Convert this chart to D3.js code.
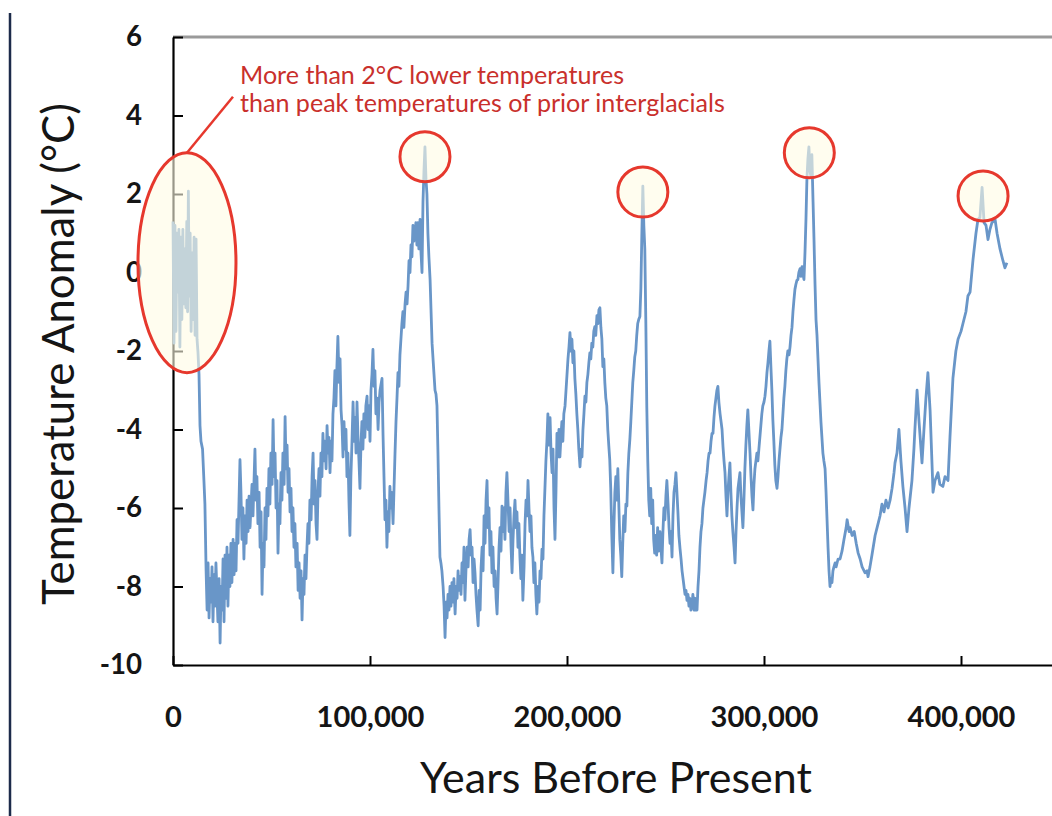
<!DOCTYPE html>
<html><head><meta charset="utf-8">
<script src="https://cdn.jsdelivr.net/npm/d3@7"></script>
<style>html,body{margin:0;padding:0;background:#fff;} svg{display:block;}</style>
</head><body><svg id="chart" width="1052" height="816"></svg>
<script>
// Vostok temperature anomaly: [years before present, °C]
const series = [
[0,1.3],[500,-1.8],[1000,1.2],[1500,-1.5],[2000,1.0],[2500,-0.5],[3000,1.1],[3500,-1.9],[4000,0.9],[4500,-1.2],[5000,1.1],[5500,-0.8],[6000,0.6],[6500,-0.9],[7000,1.3],[7400,-1.0],[7800,2.07],[8200,-0.6],[8700,1.0],[9200,-1.5],[9700,0.5],[10200,-1.2],[10700,0.9],[11200,-1.6],[11700,0.85],[12200,-1.7],[12700,-2.05],[13200,-2.6],[13700,-3.9],[14200,-4.3],[15000,-4.5],[15700,-5.3],[16200,-5.9],[16800,-7.6],[17300,-8.6],[17800,-7.4],[18300,-8.8],[18800,-7.8],[19300,-8.4],[19800,-7.5],[20300,-8.9],[20800,-7.7],[21300,-8.5],[21800,-7.4],[22800,-8.9],[23400,-7.8],[23900,-9.44],[24400,-8.0],[24900,-8.6],[25400,-7.3],[25900,-8.9],[26400,-7.2],[26900,-8.3],[27400,-7.0],[27900,-8.5],[28400,-7.2],[28900,-8.0],[29400,-6.9],[29900,-7.9],[30500,-6.8],[31000,-7.7],[31500,-6.9],[32000,-7.6],[32500,-6.3],[33000,-6.9],[34000,-4.77],[34500,-5.6],[35000,-6.8],[35500,-6.0],[36000,-7.3],[36500,-6.2],[37100,-6.9],[37600,-5.8],[38100,-6.6],[38600,-5.7],[39100,-6.5],[40100,-5.4],[40600,-6.2],[41600,-4.5],[42100,-5.8],[42600,-5.2],[43100,-6.4],[43700,-5.6],[44200,-7.0],[44700,-6.1],[45200,-8.2],[45700,-6.9],[46200,-7.5],[46700,-6.0],[47200,-6.8],[47700,-5.5],[48200,-6.2],[48700,-5.0],[49200,-5.9],[49700,-4.6],[50300,-5.4],[50800,-3.75],[51300,-5.2],[51800,-4.6],[52300,-6.0],[52800,-5.3],[53300,-7.15],[53800,-5.9],[54300,-6.4],[54800,-5.1],[55300,-5.8],[55800,-4.6],[56400,-5.4],[56900,-3.67],[57400,-5.0],[57900,-4.4],[58400,-5.6],[58900,-5.0],[59400,-6.1],[59900,-5.5],[60400,-6.6],[60900,-6.0],[61400,-7.0],[61900,-6.4],[62400,-7.5],[63000,-6.9],[63500,-8.1],[64000,-7.4],[64500,-8.3],[65000,-7.6],[65500,-8.85],[66000,-7.8],[66500,-8.2],[67000,-7.2],[67500,-7.8],[68000,-7.0],[68500,-6.4],[69000,-6.9],[69500,-5.8],[70100,-6.3],[70600,-5.2],[71100,-4.6],[71600,-5.9],[72100,-5.3],[72600,-6.4],[73100,-6.8],[73600,-5.6],[74100,-5.0],[74600,-5.7],[75100,-4.6],[75600,-5.2],[76100,-4.1],[76600,-4.8],[77200,-4.3],[77700,-5.0],[78200,-3.9],[78700,-4.6],[79200,-4.2],[79700,-5.1],[80200,-4.3],[80700,-4.8],[81200,-3.6],[81700,-3.2],[82200,-2.5],[82700,-3.4],[83200,-2.4],[83700,-1.63],[84300,-2.8],[84800,-2.2],[85300,-3.5],[85800,-3.9],[86300,-4.7],[86800,-3.8],[87300,-4.5],[87800,-4.0],[88300,-5.2],[88800,-4.6],[89300,-5.8],[89800,-6.7],[90300,-5.2],[90800,-4.4],[91400,-3.3],[91900,-4.3],[92400,-3.7],[92900,-4.6],[93400,-3.3],[93900,-4.2],[94400,-4.8],[94900,-5.5],[95400,-4.4],[95900,-3.8],[96400,-4.5],[96900,-3.6],[97400,-4.2],[97900,-3.4],[98500,-3.15],[99000,-4.0],[99500,-3.4],[100000,-4.3],[100500,-3.0],[101000,-2.6],[101500,-1.96],[102000,-2.9],[102500,-2.5],[103000,-3.6],[103600,-3.2],[104100,-4.0],[104600,-3.3],[105100,-3.0],[106100,-2.7],[106600,-4.1],[107100,-5.2],[107600,-6.3],[108100,-5.8],[108600,-7.0],[109100,-6.1],[109600,-6.6],[110100,-5.45],[110600,-6.0],[111100,-5.6],[111700,-6.4],[112200,-5.5],[112700,-4.6],[113200,-3.8],[113700,-3.2],[114200,-2.55],[114700,-2.9],[115200,-2.1],[115700,-1.7],[116200,-1.3],[116700,-1.0],[117200,-1.4],[117800,-0.8],[118300,-0.5],[118800,-0.8],[119300,-0.35],[119800,0.3],[120300,0.0],[120800,0.7],[121300,0.4],[121800,1.2],[122300,0.8],[122800,1.0],[123300,1.27],[123800,0.7],[124300,1.27],[124800,0.6],[125400,1.35],[125900,0.5],[126400,0.0],[126900,1.8],[127400,2.6],[127900,3.2],[128400,2.4],[128900,2.0],[129400,1.0],[129900,0.4],[130500,-0.18],[131000,-1.0],[131500,-1.8],[132000,-2.2],[132500,-2.6],[133000,-3.0],[133500,-3.1],[134000,-3.4],[134500,-4.6],[135000,-6.0],[135500,-7.25],[136000,-7.4],[136500,-7.6],[137100,-8.0],[137600,-8.5],[138100,-9.3],[138600,-8.4],[139100,-8.8],[139600,-8.2],[140100,-8.6],[140600,-8.0],[141100,-8.5],[141600,-7.9],[142100,-8.4],[142600,-7.8],[143200,-8.7],[143700,-8.0],[144200,-8.3],[144700,-7.6],[145200,-8.1],[145700,-7.75],[146200,-8.2],[146700,-7.4],[147200,-7.9],[147700,-7.0],[148200,-8.35],[148700,-7.6],[149300,-7.0],[149800,-7.5],[150300,-6.8],[150800,-6.55],[151300,-7.2],[151800,-7.0],[152300,-7.9],[152800,-7.3],[153300,-7.65],[153800,-8.2],[154300,-8.6],[154900,-9.0],[155400,-8.1],[155900,-8.6],[156400,-7.5],[156900,-7.0],[157400,-7.6],[157900,-6.2],[158400,-6.9],[158900,-5.8],[159400,-5.3],[159900,-6.5],[160400,-6.0],[160900,-7.2],[161400,-6.6],[161900,-7.65],[162400,-7.0],[163000,-8.0],[163500,-7.6],[164000,-8.3],[164500,-8.7],[165000,-7.9],[165500,-7.0],[166000,-6.5],[166500,-7.1],[167000,-5.95],[167500,-6.6],[168000,-6.0],[168500,-6.8],[169000,-5.6],[169500,-5.1],[170100,-5.9],[170600,-6.6],[171100,-6.0],[171600,-7.0],[172100,-7.65],[172600,-6.8],[173100,-6.2],[173600,-5.8],[174100,-6.5],[174600,-6.1],[175100,-7.0],[175600,-6.4],[176100,-7.25],[176600,-7.8],[177100,-7.2],[177600,-8.35],[178200,-7.5],[178700,-6.4],[179200,-5.8],[179700,-6.2],[180200,-5.3],[180700,-6.0],[181200,-6.6],[181700,-6.2],[182200,-7.0],[182700,-7.25],[183200,-7.9],[183700,-7.4],[184200,-8.2],[184700,-8.7],[185300,-8.0],[185800,-8.4],[186300,-7.6],[186800,-7.8],[187300,-7.05],[187800,-7.3],[188300,-6.2],[188800,-5.5],[189300,-4.8],[189800,-4.3],[190300,-3.6],[190800,-4.4],[191400,-3.7],[191900,-4.6],[192400,-5.1],[192900,-4.5],[193400,-6.0],[193900,-6.8],[194400,-5.6],[194900,-4.1],[195400,-4.7],[195900,-4.0],[196400,-4.7],[196900,-4.2],[197400,-3.8],[197900,-4.3],[198400,-3.6],[199000,-3.4],[199500,-3.0],[200000,-2.6],[200500,-2.2],[201000,-1.9],[201500,-1.53],[202000,-2.0],[202500,-1.7],[203000,-2.3],[203500,-2.0],[204000,-2.7],[204500,-3.1],[205000,-3.6],[205500,-4.0],[206000,-4.5],[206600,-4.95],[207100,-4.5],[207600,-4.7],[208100,-4.0],[208600,-3.6],[209100,-3.15],[209600,-3.3],[210100,-2.8],[210600,-2.6],[211100,-2.3],[211600,-2.05],[212100,-2.2],[212600,-1.8],[213100,-1.9],[213600,-1.5],[214100,-1.38],[214600,-1.6],[215200,-1.1],[215700,-1.3],[216200,-0.95],[216700,-0.9],[217200,-1.4],[217700,-1.7],[218200,-2.4],[218700,-2.2],[219200,-2.8],[219700,-3.2],[220200,-3.4],[220700,-4.0],[221200,-4.4],[221700,-4.77],[222200,-5.5],[222700,-6.6],[223300,-7.65],[223800,-6.5],[224300,-5.6],[224800,-5.2],[225300,-5.8],[225800,-5.0],[226300,-5.9],[226800,-6.8],[227300,-7.2],[227800,-7.75],[228300,-6.9],[228800,-6.2],[229400,-6.6],[229900,-5.9],[230400,-5.95],[230900,-5.1],[231400,-4.6],[231900,-4.26],[232400,-3.8],[232900,-3.3],[233400,-2.8],[233900,-2.5],[234400,-2.15],[234900,-2.0],[235400,-1.6],[235900,-1.3],[236400,-1.2],[237000,-1.12],[237500,-0.4],[238000,1.0],[238500,2.2],[239000,1.2],[239500,0.6],[240000,-1.2],[240500,-3.4],[241000,-4.8],[241500,-5.8],[242000,-6.2],[242500,-5.5],[243000,-6.4],[243500,-5.8],[244000,-6.8],[244500,-7.15],[245000,-6.7],[245500,-7.2],[246000,-6.5],[246500,-7.1],[247200,-6.6],[247700,-7.0],[248200,-7.4],[248700,-6.6],[249200,-6.0],[249700,-6.3],[250200,-5.7],[250700,-5.3],[251300,-5.9],[251800,-6.5],[252300,-6.9],[252800,-6.6],[253300,-7.25],[253800,-6.2],[254300,-5.6],[254800,-5.4],[255300,-5.1],[255800,-5.6],[256300,-6.1],[256800,-6.7],[257400,-7.05],[257900,-7.3],[258400,-7.6],[258900,-7.8],[259400,-8.0],[259900,-8.2],[260400,-8.1],[260900,-8.35],[261400,-8.2],[261900,-8.5],[262400,-8.3],[262900,-8.6],[263400,-8.5],[263900,-8.2],[264500,-8.6],[265000,-8.3],[265500,-8.6],[266000,-8.6],[266500,-8.0],[267000,-7.6],[267500,-7.0],[268000,-6.6],[268500,-6.4],[269000,-6.0],[269500,-5.8],[270000,-5.6],[270600,-5.3],[271100,-5.1],[271600,-4.8],[272100,-4.6],[272600,-4.6],[273100,-4.3],[273600,-4.1],[274100,-4.1],[274600,-3.7],[275100,-3.4],[275600,-3.2],[276100,-3.0],[276600,-2.9],[277100,-3.3],[277700,-3.6],[278200,-3.8],[278700,-4.0],[279200,-4.45],[279700,-4.8],[280200,-5.1],[280700,-5.7],[281200,-6.2],[281700,-5.6],[282200,-5.2],[282700,-4.85],[283200,-5.6],[283700,-6.2],[284200,-6.6],[284800,-7.0],[285300,-7.4],[285800,-6.6],[286300,-6.0],[286800,-5.5],[287300,-5.3],[287800,-5.1],[288300,-5.7],[288800,-6.1],[289300,-6.5],[289800,-5.8],[290300,-5.0],[290800,-4.4],[291300,-3.9],[291800,-3.5],[292300,-4.0],[292900,-4.6],[293400,-5.2],[293900,-5.7],[294400,-6.05],[294900,-5.4],[295400,-5.0],[295900,-4.8],[296400,-4.6],[296900,-4.8],[297400,-4.5],[297900,-4.2],[298400,-3.9],[298900,-3.6],[299400,-3.4],[300000,-3.3],[300500,-3.15],[301000,-2.9],[301500,-2.55],[302000,-2.3],[302500,-2.0],[303000,-1.75],[303500,-2.4],[304000,-3.0],[304500,-3.75],[305000,-4.3],[305500,-4.9],[306000,-5.3],[306600,-5.5],[307100,-5.2],[307600,-4.8],[308100,-4.5],[308600,-4.2],[309100,-4.0],[309600,-3.6],[310100,-3.2],[310600,-2.9],[311100,-2.5],[311600,-2.2],[312100,-2.0],[312700,-2.1],[313200,-1.9],[313700,-1.6],[314200,-1.4],[314700,-1.0],[315200,-0.7],[315700,-0.43],[316200,-0.3],[316700,-0.2],[317200,-0.18],[317700,0.0],[318300,0.1],[318800,-0.1],[319300,0.15],[319800,-0.05],[320300,-0.18],[320800,0.5],[321300,1.35],[321800,2.4],[322300,2.9],[322800,3.2],[323300,2.6],[323800,2.45],[324300,3.0],[324900,1.8],[325400,0.8],[325900,-0.3],[326400,-1.2],[326900,-1.6],[327400,-2.2],[327900,-2.8],[328400,-3.3],[328900,-3.8],[329400,-4.2],[329900,-4.6],[330400,-4.8],[331000,-5.0],[331500,-5.6],[332000,-6.3],[332500,-7.0],[333000,-7.6],[333500,-8.0],[334000,-7.8],[334500,-7.9],[335000,-7.6],[335500,-7.5],[336100,-7.4],[336600,-7.5],[337600,-7.3],[338600,-7.3],[339600,-7.1],[340600,-6.8],[341700,-6.5],[342200,-6.3],[343200,-6.6],[343700,-6.5],[344700,-6.7],[345800,-6.6],[346800,-6.9],[347800,-7.15],[348800,-7.3],[349800,-7.5],[351300,-7.65],[352300,-7.6],[352800,-7.75],[353800,-7.5],[354800,-7.2],[356400,-6.7],[357400,-6.5],[358900,-6.2],[359900,-5.9],[360900,-6.1],[361900,-5.8],[363000,-6.0],[364000,-5.8],[365000,-5.5],[366000,-5.1],[366500,-4.85],[367500,-4.6],[368500,-4.0],[369500,-4.8],[370500,-5.45],[371600,-6.0],[372600,-6.6],[373600,-6.0],[375100,-5.3],[376100,-4.5],[376600,-4.0],[377700,-3.0],[378700,-3.8],[380200,-4.85],[381200,-4.0],[382200,-3.2],[383200,-2.55],[384300,-3.5],[385800,-5.6],[386800,-5.3],[388300,-5.1],[389300,-5.4],[390800,-5.45],[391900,-5.2],[393400,-5.3],[394400,-4.2],[395900,-2.7],[397400,-2.0],[398500,-1.7],[400000,-1.5],[401000,-1.3],[402500,-1.0],[403500,-0.6],[404600,-0.5],[406100,0.33],[407600,1.0],[408600,1.35],[409600,1.4],[410700,2.17],[411700,1.27],[412700,1.2],[413700,0.84],[414700,1.1],[415700,1.27],[417300,1.35],[418300,1.0],[419800,0.6],[421300,0.3],[422300,0.12],[423300,0.25]
];
const xDomain = [0, 450000];
const yDomain = [-10, 6];
const xTicks = [0, 100000, 200000, 300000, 400000];
const yTicks = [6, 4, 2, 0, -2, -4, -6, -8, -10];
const xTitle = "Years Before Present";
const yTitle = "Temperature Anomaly (°C)";
const noteLines = ["More than 2°C lower temperatures", "than peak temperatures of prior interglacials"];
const peakMarks = [[127900, 2.95], [238500, 2.05], [323000, 3.05], [411200, 1.95]];
const holoceneMark = [7100, 0.25];

const FONT = "Lato, 'Open Sans', 'DejaVu Sans', sans-serif";
const svg = d3.select('#chart');
const x = d3.scaleLinear().domain(xDomain).range([173, 1059.5]);
const y = d3.scaleLinear().domain(yDomain).range([665, 37]);

function fitText(sel, target) {
  const w = sel.node().getComputedTextLength();
  const fs = parseFloat(sel.attr('font-size'));
  const nf = fs * target / w;
  sel.attr('font-size', nf);
  return nf;
}

// page rule at far left
svg.append('line').attr('x1', 10).attr('x2', 10).attr('y1', 13).attr('y2', 816)
  .attr('stroke', '#1c2b4a').attr('stroke-width', 2.5);

// top frame line
svg.append('line').attr('x1', x(0)).attr('x2', 1052).attr('y1', y(6)).attr('y2', y(6))
  .attr('stroke', '#9a9a9a').attr('stroke-width', 3);

// measure tick font size
const probe = svg.append('text').attr('font-family', FONT).attr('font-weight', 'bold')
  .attr('font-size', 20).text(d3.format(',')(100000));
const tickFS = fitText(probe, 108);
probe.remove();

// x axis
const gx = svg.append('g').attr('transform', `translate(0,${y(-10)})`)
  .call(d3.axisBottom(x).tickValues(xTicks).tickFormat(d3.format(','))
    .tickSizeInner(-9).tickSizeOuter(0));
gx.select('.domain').attr('stroke', '#000').attr('stroke-width', 2.2);
gx.selectAll('.tick line').attr('stroke', '#000').attr('stroke-width', 2);
gx.selectAll('.tick text').attr('font-family', FONT).attr('font-weight', 'bold')
  .attr('font-size', tickFS).attr('fill', '#151515').attr('y', 62).attr('dy', null);

// y axis
const gy = svg.append('g').attr('transform', `translate(${x(0)},0)`)
  .call(d3.axisLeft(y).tickValues(yTicks).tickFormat(d => String(d))
    .tickSizeInner(-10).tickSizeOuter(0).tickPadding(31));
gy.select('.domain').attr('stroke', '#000').attr('stroke-width', 2.2);
gy.selectAll('.tick line').attr('stroke', '#000').attr('stroke-width', 2);
gy.selectAll('.tick text').attr('font-family', FONT).attr('font-weight', 'bold')
  .attr('font-size', tickFS * 0.95).attr('fill', '#151515');

// data line
svg.append('path').datum(series)
  .attr('fill', 'none').attr('stroke', '#6996c8').attr('stroke-width', 2.8)
  .attr('stroke-linejoin', 'round')
  .attr('d', d3.line().x(d => x(d[0])).y(d => y(d[1])));

// highlight overlays
const RED = '#e6382d';
const CREAM = '#fffbe4';
svg.append('ellipse')
  .attr('cx', x(holoceneMark[0])).attr('cy', y(holoceneMark[1]))
  .attr('rx', 49).attr('ry', 110)
  .attr('fill', CREAM).attr('fill-opacity', 0.6)
  .attr('stroke', RED).attr('stroke-width', 3);

svg.selectAll('circle.peak').data(peakMarks).join('circle').attr('class', 'peak')
  .attr('cx', d => x(d[0])).attr('cy', d => y(d[1])).attr('r', 25)
  .attr('fill', CREAM).attr('fill-opacity', 0.6)
  .attr('stroke', RED).attr('stroke-width', 3);

// leader line
const ex = x(holoceneMark[0]), ey = y(holoceneMark[1]) - 110;
svg.append('line').attr('x1', ex).attr('y1', ey).attr('x2', ex + 46).attr('y2', ey - 56)
  .attr('stroke', RED).attr('stroke-width', 2.5);

// annotation text
const note = svg.append('g').attr('font-family', FONT).attr('fill', '#c9302c');
const l1 = note.append('text').attr('x', 240).attr('y', 84).attr('font-size', 20).text(noteLines[0]);
const l2 = note.append('text').attr('x', 240).attr('y', 112).attr('font-size', 20).text(noteLines[1]);
const noteFS = fitText(l2, 485);
l1.attr('font-size', noteFS);

// axis titles
const xt = svg.append('text').attr('font-family', FONT).attr('font-size', 30)
  .attr('fill', '#151515').attr('x', 420).attr('y', 793).text(xTitle);
fitText(xt, 392);

const yt = svg.append('text').attr('font-family', FONT).attr('font-size', 30)
  .attr('fill', '#151515').attr('text-anchor', 'middle')
  .attr('transform', 'translate(74,354) rotate(-90)').text(yTitle);
fitText(yt, 502);
</script>
</body></html>
